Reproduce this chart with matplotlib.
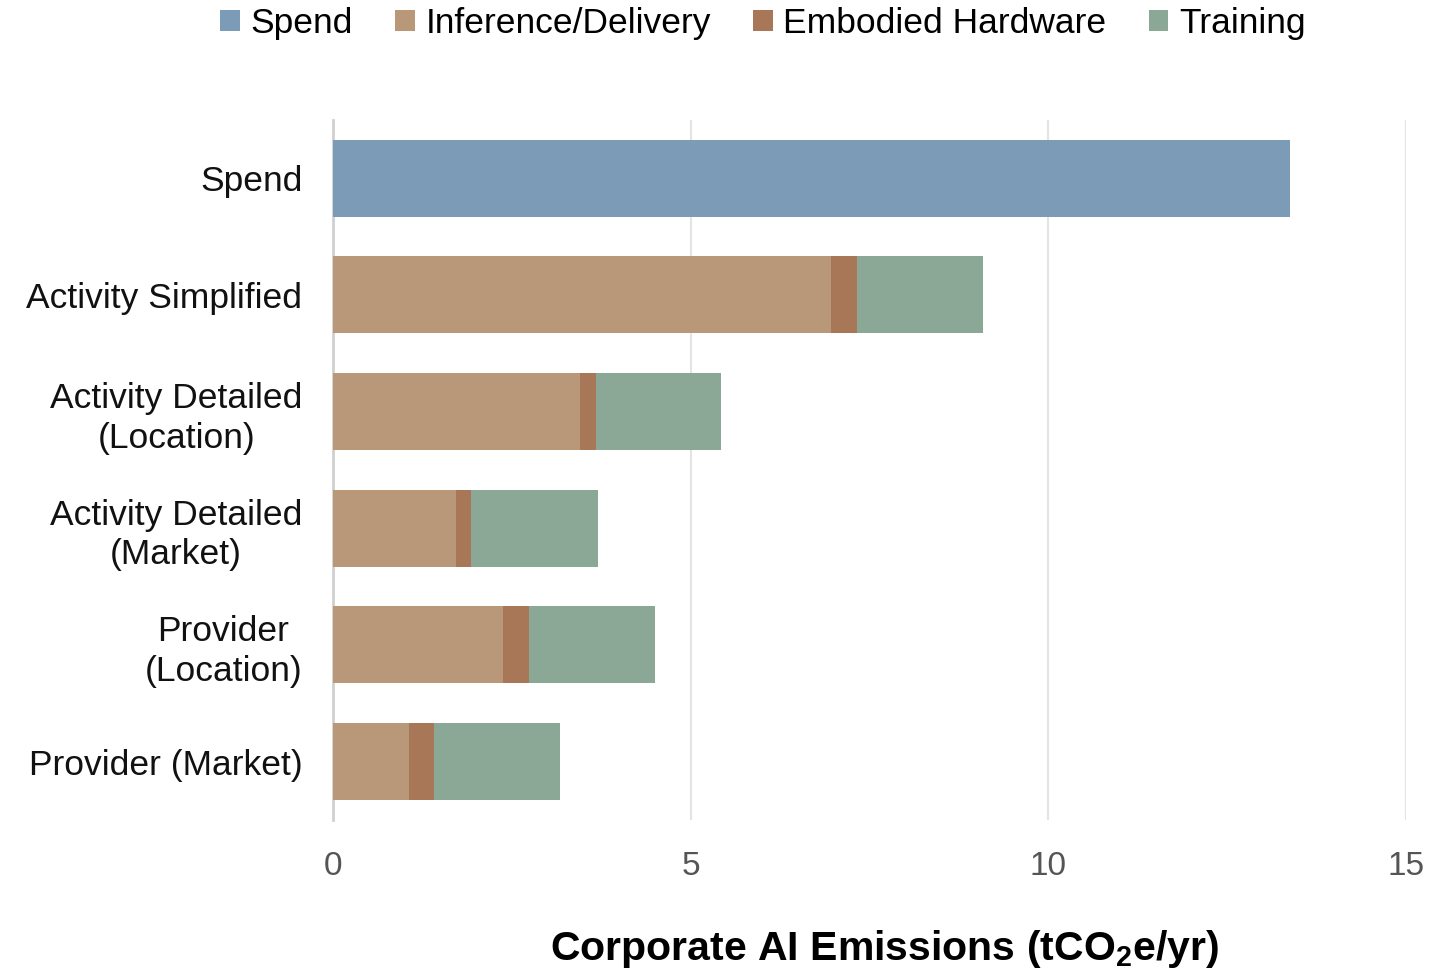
import matplotlib
matplotlib.use("Agg")
import matplotlib.pyplot as plt
import numpy as np

plt.rcParams['font.family'] = ['Liberation Sans', 'DejaVu Sans']

# data (tCO2e/yr)
methods = ["Spend", "Activity Simplified", "Activity Detailed\n(Location)",
           "Activity Detailed\n(Market)", "Provider\n(Location)", "Provider (Market)"]
spend = [13.38, 0, 0, 0, 0, 0]
inference = [0, 6.96, 3.45, 1.72, 2.38, 1.06]
embodied = [0, 0.37, 0.22, 0.21, 0.36, 0.35]
training = [0, 1.76, 1.76, 1.78, 1.76, 1.76]

series = [
    ("Spend", spend, "#7b9bb6"),
    ("Inference/Delivery", inference, "#b89878"),
    ("Embodied Hardware", embodied, "#a87758"),
    ("Training", training, "#8ba896"),
]

fig = plt.figure(figsize=(14.56, 9.75), dpi=100)
ax = fig.add_axes([0.2287, 0.159, 0.7370, 0.718])

y = np.arange(len(methods))
left = np.zeros(len(methods))
handles = []
for name, vals, color in series:
    vals = np.array(vals)
    h = ax.barh(y, vals, left=left, height=0.66, color=color, label=name, zorder=3)
    handles.append(h)
    left = left + vals

ax.set_xlim(0, 15)
ax.set_ylim(len(methods) - 0.5, -0.5)
ax.set_xticks([0, 5, 10, 15])
ax.set_yticks(y)
ax.set_yticklabels(methods, fontsize=25.5, color="#111111")
for lbl in ax.get_yticklabels():
    lbl.set_multialignment("center")
    lbl.set_linespacing(1.25)
ax.tick_params(axis="y", length=0, pad=22)
ax.tick_params(axis="x", length=0, pad=22, labelsize=24, labelcolor="#555555")

ax.grid(axis="x", color="#e4e4e4", linewidth=1.5, zorder=0)
for side in ["top", "right", "bottom"]:
    ax.spines[side].set_visible(False)
ax.spines["left"].set_color("#d0d0d0")
ax.spines["left"].set_linewidth(2)

ax.set_xlabel("Corporate AI Emissions (tCO$_\\mathregular{2}$e/yr)", fontsize=29.5,
              fontweight="bold")
ax.xaxis.set_label_coords(0.514, -0.155)

fig.legend(handles=handles, loc="center", bbox_to_anchor=(0.524, 0.976), ncol=4,
           frameon=False, fontsize=25.5, handlelength=0.55, handleheight=0.55,
           handletextpad=0.3, columnspacing=1.2)

fig.savefig("out.png", dpi=100)
